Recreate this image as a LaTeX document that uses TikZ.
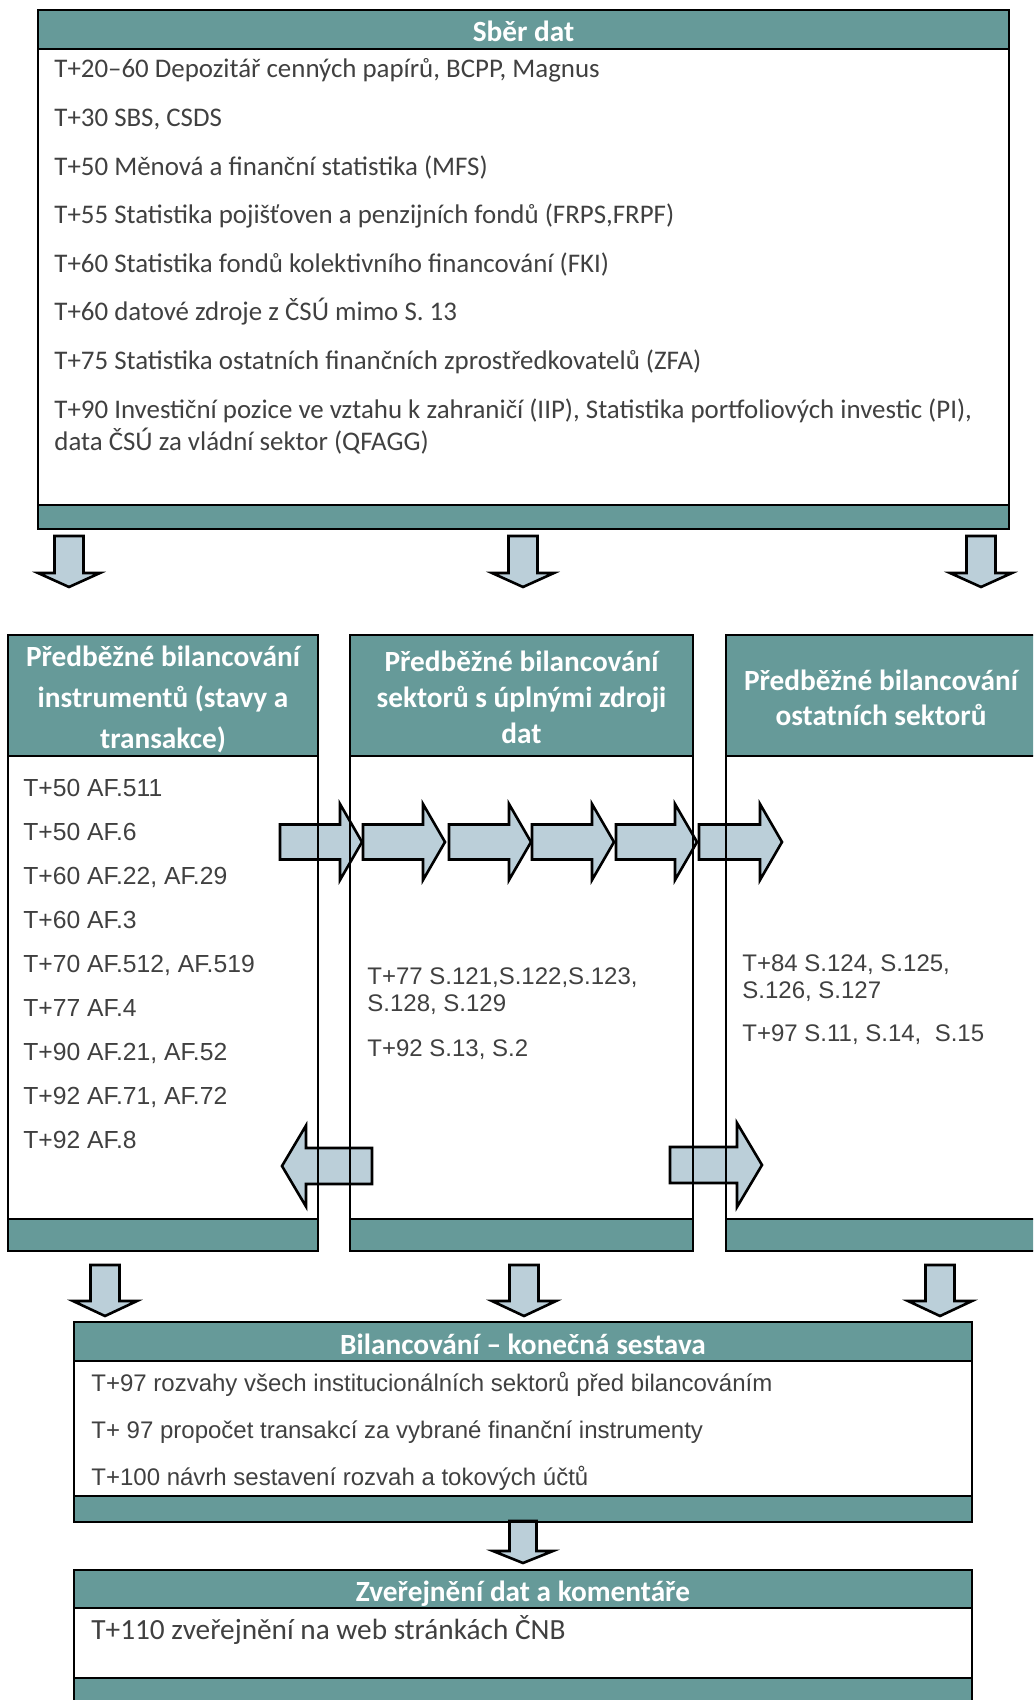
\documentclass[tikz,border=0pt]{standalone}
\usepackage{fontspec}
\setmainfont{Carlito}
\newfontfamily\arialf{Liberation Sans}
\definecolor{hdteal}{RGB}{102,154,153}
\definecolor{arrfill}{RGB}{187,207,217}
\definecolor{txtgray}{RGB}{64,64,64}
\tikzset{
  frame/.style={draw=black, line width=1.35pt},
  blockarrow/.style={fill=arrfill, draw=black, line width=1.3pt, line join=miter},
  hdr/.style={text=white, font=\fontsize{14.65}{17}\selectfont\bfseries, inner sep=0pt, anchor=base},
  cal/.style={text=txtgray, font=\fontsize{13.45}{16}\selectfont, inner sep=0pt, anchor=base west},
  calbig/.style={text=txtgray, font=\fontsize{14.65}{17}\selectfont, inner sep=0pt, anchor=base west},
  ari/.style={text=txtgray, font=\arialf\fontsize{12}{14}\selectfont, inner sep=0pt, anchor=base west},
  aril/.style={text=txtgray, font=\arialf\fontsize{12.35}{14}\selectfont, inner sep=0pt, anchor=base west},
  pics/rarrow/.style n args={4}{code={%
    \draw[blockarrow] (0,-#3) -- ({#1-#2},-#3) -- ({#1-#2},-#4) -- (#1,0) -- ({#1-#2},#4) -- ({#1-#2},#3) -- (0,#3) -- cycle;}},
  pics/darrow/.style n args={4}{code={%
    \draw[blockarrow] (-#3,0) -- (-#3,{#1-#2}) -- (-#4,{#1-#2}) -- (0,#1) -- (#4,{#1-#2}) -- (#3,{#1-#2}) -- (#3,0) -- cycle;}},
}
\newcommand{\panelfill}[6]{% x1 y1 x2 y2 headerbottom bartop
  \fill[hdteal] (#1,#2) rectangle (#3,#5);
  \fill[hdteal] (#1,#6) rectangle (#3,#4);}
\newcommand{\panelframe}[6]{%
  \draw[frame] (#1,#2) rectangle (#3,#4);
  \draw[frame] (#1,#5) -- (#3,#5);
  \draw[frame] (#1,#6) -- (#3,#6);}
\begin{document}
\begin{tikzpicture}[x=0.5pt,y=-0.5pt]
\useasboundingbox (0,0) rectangle (1033,1700);
\clip (0,0) rectangle (1033,1700);
% fills
\panelfill{38}{10}{1009}{529}{49}{505}
\panelfill{8}{635}{318}{1251}{756}{1219}
\panelfill{350}{635}{693}{1251}{756}{1219}
\panelfill{726}{635}{1040}{1251}{756}{1219}
\panelfill{74}{1322}{972}{1522}{1361}{1496}
\panelfill{74}{1570}{972}{1730}{1608}{1678}
% arrows
\pic (d1) at (69,536) {darrow={51}{14}{14.5}{31}};
\pic (d2) at (523,536) {darrow={51}{14}{14.5}{31}};
\pic (d3) at (981,536) {darrow={51}{14}{14.5}{31}};
\pic (r1) at (280,842) {rarrow={82}{22}{17.5}{38}};
\pic (r2) at (363,842) {rarrow={82}{22}{17.5}{38}};
\pic (r3) at (449,842) {rarrow={82}{22}{17.5}{38}};
\pic (r4) at (532,842) {rarrow={82}{22}{17.5}{38}};
\pic (r5) at (616,842) {rarrow={81}{22}{17.5}{38}};
\pic (r6) at (699,842) {rarrow={83}{22}{17.5}{38}};
\pic[xscale=-1] (bl) at (372,1166) {rarrow={90}{24}{18}{40.5}};
\pic (br) at (670,1165) {rarrow={92}{25}{18}{42}};
\pic (e1) at (105,1265) {darrow={51}{15}{14.5}{32}};
\pic (e2) at (524,1265) {darrow={51}{15}{14.5}{32}};
\pic (e3) at (940,1265) {darrow={51}{15}{14.5}{32}};
\pic (f1) at (523,1521) {darrow={42}{12}{13.5}{30}};
% frames
\panelframe{38}{10}{1009}{529}{49}{505}
\panelframe{8}{635}{318}{1251}{756}{1219}
\panelframe{350}{635}{693}{1251}{756}{1219}
\panelframe{726}{635}{1040}{1251}{756}{1219}
\panelframe{74}{1322}{972}{1522}{1361}{1496}
\panelframe{74}{1570}{972}{1730}{1608}{1678}
% top box
\node[hdr] (h1) at (523.5,42) {Sběr dat};
\node[cal] (t1) at (54,78) {T+20–60 Depozitář cenných papírů, BCPP, Magnus};
\node[cal] (t2) at (54,126.6) {T+30 SBS, CSDS};
\node[cal] (t3) at (54,175.2) {T+50 Měnová a finanční statistika (MFS)};
\node[cal] (t4) at (54,223.8) {T+55 Statistika pojišťoven a penzijních fondů (FRPS,FRPF)};
\node[cal] (t5) at (54,272.4) {T+60 Statistika fondů kolektivního financování (FKI)};
\node[cal] (t6) at (54,321) {T+60 datové zdroje z ČSÚ mimo S. 13};
\node[cal] (t7) at (54,369.6) {T+75 Statistika ostatních finančních zprostředkovatelů (ZFA)};
\node[cal] (t8) at (54,418.2) {T+90 Investiční pozice ve vztahu k zahraničí (IIP), Statistika portfoliových investic (PI),};
\node[cal] (t9) at (54,450.7) {data ČSÚ za vládní sektor (QFAGG)};
% column headers
\node[hdr] (hl1) at (163,666) {Předběžné bilancování};
\node[hdr] (hl2) at (163,707) {instrumentů (stavy a};
\node[hdr] (hl3) at (163,748) {transakce)};
\node[hdr] (hm1) at (521.5,671) {Předběžné bilancování};
\node[hdr] (hm2) at (521.5,707) {sektorů s úplnými zdroji};
\node[hdr] (hm3) at (521.5,743) {dat};
\node[hdr] (hr1) at (881,690) {Předběžné bilancování};
\node[hdr] (hr2) at (881,725) {ostatních sektorů};
% left column
\node[aril] (l1) at (23,796) {T+50 AF.511};
\node[aril] (l2) at (23,840) {T+50 AF.6};
\node[aril] (l3) at (23,884) {T+60 AF.22, AF.29};
\node[aril] (l4) at (23,928) {T+60 AF.3};
\node[aril] (l5) at (23,972) {T+70 AF.512, AF.519};
\node[aril] (l6) at (23,1016) {T+77 AF.4};
\node[aril] (l7) at (23,1060) {T+90 AF.21, AF.52};
\node[aril] (l8) at (23,1104) {T+92 AF.71, AF.72};
\node[aril] (l9) at (23,1148) {T+92 AF.8};
% middle column
\node[ari] (m1) at (367,984) {T+77 S.121,S.122,S.123,};
\node[ari] (m2) at (367,1011) {S.128, S.129};
\node[ari] (m3) at (367,1056) {T+92 S.13, S.2};
% right column
\node[ari] (q1) at (742,971) {T+84 S.124, S.125,};
\node[ari] (q2) at (742,998) {S.126, S.127};
\node[ari] (q3) at (742,1041) {T+97 S.11, S.14,~~S.15};
% bilancovani
\node[hdr] (hb) at (523,1354) {Bilancování – konečná sestava};
\node[ari] (b1) at (91,1391) {T+97 rozvahy všech institucionálních sektorů před bilancováním};
\node[ari] (b2) at (91,1438) {T+ 97 propočet transakcí za vybrané finanční instrumenty};
\node[ari] (b3) at (91,1485) {T+100 návrh sestavení rozvah a tokových účtů};
% zverejneni
\node[hdr] (hz) at (523,1601) {Zveřejnění dat a komentáře};
\node[calbig] (z1) at (91,1639) {T+110 zveřejnění na web stránkách ČNB};
\end{tikzpicture}
\end{document}
